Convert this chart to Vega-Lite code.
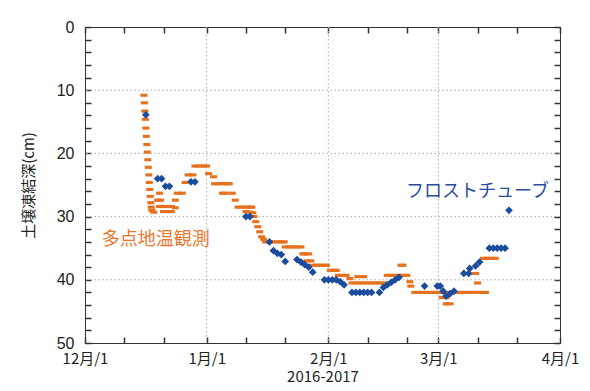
{
  "$schema": "https://vega.github.io/schema/vega-lite/v6.json",
  "width": 475,
  "height": 316,
  "autosize": "none",
  "padding": {"left": 85, "top": 27, "right": 30, "bottom": 48},
  "background": "white",
  "config": {"view": {"stroke": "#333", "strokeWidth": 1}, "font": "Noto Sans CJK JP"},
  "datasets": {
    "vgrid": [{"date": "2017-01-01T00:00:00Z"}, {"date": "2017-02-01T00:00:00Z"}, {"date": "2017-03-01T00:00:00Z"}],
    "hgrid": [{"depth": 10}, {"depth": 20}, {"depth": 30}, {"depth": 40}],
    "multi": [
      {"date": "2016-12-16T00:00:00Z", "depth": 10.8},
      {"date": "2016-12-16T03:00:00Z", "depth": 12},
      {"date": "2016-12-16T06:00:00Z", "depth": 13.3},
      {"date": "2016-12-16T09:00:00Z", "depth": 14.6},
      {"date": "2016-12-16T12:00:00Z", "depth": 16},
      {"date": "2016-12-16T15:00:00Z", "depth": 17.3},
      {"date": "2016-12-16T18:00:00Z", "depth": 18.6},
      {"date": "2016-12-16T21:00:00Z", "depth": 19.8},
      {"date": "2016-12-17T00:00:00Z", "depth": 21},
      {"date": "2016-12-17T03:00:00Z", "depth": 22.2},
      {"date": "2016-12-17T06:00:00Z", "depth": 23.4},
      {"date": "2016-12-17T09:00:00Z", "depth": 24.6},
      {"date": "2016-12-17T12:00:00Z", "depth": 25.7},
      {"date": "2016-12-17T15:00:00Z", "depth": 26.8},
      {"date": "2016-12-17T18:00:00Z", "depth": 27.8},
      {"date": "2016-12-17T21:00:00Z", "depth": 28.5},
      {"date": "2016-12-18T00:00:00Z", "depth": 29},
      {"date": "2016-12-18T12:00:00Z", "depth": 29.3},
      {"date": "2016-12-19T12:00:00Z", "depth": 27.4},
      {"date": "2016-12-20T00:00:00Z", "depth": 26.3},
      {"date": "2016-12-20T06:00:00Z", "depth": 27.4},
      {"date": "2016-12-20T00:00:00Z", "depth": 28.4},
      {"date": "2016-12-21T00:00:00Z", "depth": 28.4},
      {"date": "2016-12-22T00:00:00Z", "depth": 28.4},
      {"date": "2016-12-23T00:00:00Z", "depth": 28.4},
      {"date": "2016-12-21T00:00:00Z", "depth": 29.2},
      {"date": "2016-12-22T00:00:00Z", "depth": 29.2},
      {"date": "2016-12-23T00:00:00Z", "depth": 29.2},
      {"date": "2016-12-24T00:00:00Z", "depth": 28.6},
      {"date": "2016-12-24T00:00:00Z", "depth": 27.4},
      {"date": "2016-12-24T12:00:00Z", "depth": 26.3},
      {"date": "2016-12-25T18:00:00Z", "depth": 26.3},
      {"date": "2016-12-26T12:00:00Z", "depth": 24.6},
      {"date": "2016-12-27T06:00:00Z", "depth": 23.4},
      {"date": "2016-12-28T12:00:00Z", "depth": 23.4},
      {"date": "2016-12-29T00:00:00Z", "depth": 22},
      {"date": "2016-12-30T00:00:00Z", "depth": 22},
      {"date": "2016-12-31T00:00:00Z", "depth": 22},
      {"date": "2017-01-01T00:00:00Z", "depth": 22},
      {"date": "2017-01-01T12:00:00Z", "depth": 23.2},
      {"date": "2017-01-02T18:00:00Z", "depth": 23.7},
      {"date": "2017-01-03T00:00:00Z", "depth": 24.8},
      {"date": "2017-01-04T00:00:00Z", "depth": 24.8},
      {"date": "2017-01-05T00:00:00Z", "depth": 24.8},
      {"date": "2017-01-06T00:00:00Z", "depth": 24.8},
      {"date": "2017-01-06T18:00:00Z", "depth": 24.8},
      {"date": "2017-01-05T00:00:00Z", "depth": 26.3},
      {"date": "2017-01-05T18:00:00Z", "depth": 26.3},
      {"date": "2017-01-07T12:00:00Z", "depth": 26.3},
      {"date": "2017-01-08T06:00:00Z", "depth": 27.4},
      {"date": "2017-01-09T00:00:00Z", "depth": 28.5},
      {"date": "2017-01-10T00:00:00Z", "depth": 28.5},
      {"date": "2017-01-11T00:00:00Z", "depth": 28.5},
      {"date": "2017-01-12T00:00:00Z", "depth": 28.5},
      {"date": "2017-01-12T12:00:00Z", "depth": 28.5},
      {"date": "2017-01-11T00:00:00Z", "depth": 29.2},
      {"date": "2017-01-12T00:00:00Z", "depth": 29.3},
      {"date": "2017-01-12T18:00:00Z", "depth": 29.4},
      {"date": "2017-01-13T00:00:00Z", "depth": 30},
      {"date": "2017-01-13T12:00:00Z", "depth": 30.8},
      {"date": "2017-01-14T00:00:00Z", "depth": 31.6},
      {"date": "2017-01-14T12:00:00Z", "depth": 32.4},
      {"date": "2017-01-15T00:00:00Z", "depth": 33.2},
      {"date": "2017-01-15T12:00:00Z", "depth": 33.6},
      {"date": "2017-01-16T00:00:00Z", "depth": 34},
      {"date": "2017-01-17T00:00:00Z", "depth": 34},
      {"date": "2017-01-18T00:00:00Z", "depth": 34},
      {"date": "2017-01-19T00:00:00Z", "depth": 34},
      {"date": "2017-01-20T00:00:00Z", "depth": 34},
      {"date": "2017-01-20T18:00:00Z", "depth": 34},
      {"date": "2017-01-21T00:00:00Z", "depth": 34.8},
      {"date": "2017-01-22T00:00:00Z", "depth": 34.8},
      {"date": "2017-01-23T00:00:00Z", "depth": 34.8},
      {"date": "2017-01-24T00:00:00Z", "depth": 34.8},
      {"date": "2017-01-25T00:00:00Z", "depth": 34.8},
      {"date": "2017-01-25T12:00:00Z", "depth": 35.9},
      {"date": "2017-01-26T00:00:00Z", "depth": 35.9},
      {"date": "2017-01-27T00:00:00Z", "depth": 35.9},
      {"date": "2017-01-26T12:00:00Z", "depth": 37},
      {"date": "2017-01-27T12:00:00Z", "depth": 37},
      {"date": "2017-01-28T00:00:00Z", "depth": 37.7},
      {"date": "2017-01-29T00:00:00Z", "depth": 37.7},
      {"date": "2017-01-30T00:00:00Z", "depth": 37.7},
      {"date": "2017-01-31T00:00:00Z", "depth": 37.7},
      {"date": "2017-01-31T12:00:00Z", "depth": 37.7},
      {"date": "2017-02-01T12:00:00Z", "depth": 38.5},
      {"date": "2017-02-02T12:00:00Z", "depth": 38.5},
      {"date": "2017-02-03T00:00:00Z", "depth": 38.5},
      {"date": "2017-02-03T12:00:00Z", "depth": 39.3},
      {"date": "2017-02-04T12:00:00Z", "depth": 39.3},
      {"date": "2017-02-05T12:00:00Z", "depth": 39.3},
      {"date": "2017-02-06T12:00:00Z", "depth": 39.8},
      {"date": "2017-02-07T00:00:00Z", "depth": 40.5},
      {"date": "2017-02-08T00:00:00Z", "depth": 40.5},
      {"date": "2017-02-09T00:00:00Z", "depth": 40.5},
      {"date": "2017-02-10T00:00:00Z", "depth": 40.5},
      {"date": "2017-02-11T00:00:00Z", "depth": 40.5},
      {"date": "2017-02-12T00:00:00Z", "depth": 40.5},
      {"date": "2017-02-13T00:00:00Z", "depth": 40.5},
      {"date": "2017-02-14T00:00:00Z", "depth": 40.5},
      {"date": "2017-02-15T00:00:00Z", "depth": 40.5},
      {"date": "2017-02-08T12:00:00Z", "depth": 39.5},
      {"date": "2017-02-10T00:00:00Z", "depth": 39.5},
      {"date": "2017-02-16T00:00:00Z", "depth": 39.3},
      {"date": "2017-02-17T00:00:00Z", "depth": 39.3},
      {"date": "2017-02-18T00:00:00Z", "depth": 39.3},
      {"date": "2017-02-19T00:00:00Z", "depth": 39.3},
      {"date": "2017-02-20T00:00:00Z", "depth": 39.3},
      {"date": "2017-02-21T00:00:00Z", "depth": 39.3},
      {"date": "2017-02-19T12:00:00Z", "depth": 37.7},
      {"date": "2017-02-20T00:00:00Z", "depth": 37.7},
      {"date": "2017-02-21T18:00:00Z", "depth": 40.3},
      {"date": "2017-02-22T00:00:00Z", "depth": 41},
      {"date": "2017-02-23T00:00:00Z", "depth": 42},
      {"date": "2017-02-24T00:00:00Z", "depth": 42},
      {"date": "2017-02-25T00:00:00Z", "depth": 42},
      {"date": "2017-02-26T00:00:00Z", "depth": 42},
      {"date": "2017-02-27T00:00:00Z", "depth": 42},
      {"date": "2017-02-28T00:00:00Z", "depth": 42},
      {"date": "2017-03-01T00:00:00Z", "depth": 42},
      {"date": "2017-03-02T00:00:00Z", "depth": 42},
      {"date": "2017-03-03T00:00:00Z", "depth": 42},
      {"date": "2017-03-04T00:00:00Z", "depth": 42},
      {"date": "2017-03-05T00:00:00Z", "depth": 42},
      {"date": "2017-03-06T00:00:00Z", "depth": 42},
      {"date": "2017-03-07T00:00:00Z", "depth": 42},
      {"date": "2017-03-08T00:00:00Z", "depth": 42},
      {"date": "2017-03-09T00:00:00Z", "depth": 42},
      {"date": "2017-03-10T00:00:00Z", "depth": 42},
      {"date": "2017-03-11T00:00:00Z", "depth": 42},
      {"date": "2017-03-12T00:00:00Z", "depth": 42},
      {"date": "2017-03-13T00:00:00Z", "depth": 42},
      {"date": "2017-03-02T00:00:00Z", "depth": 42.8},
      {"date": "2017-03-03T00:00:00Z", "depth": 42.8},
      {"date": "2017-03-03T00:00:00Z", "depth": 43.8},
      {"date": "2017-03-04T00:00:00Z", "depth": 43.8},
      {"date": "2017-03-10T12:00:00Z", "depth": 39},
      {"date": "2017-03-11T00:00:00Z", "depth": 40.5},
      {"date": "2017-03-12T12:00:00Z", "depth": 36.6},
      {"date": "2017-03-13T12:00:00Z", "depth": 36.6},
      {"date": "2017-03-14T12:00:00Z", "depth": 36.6},
      {"date": "2017-03-15T12:00:00Z", "depth": 36.6}
    ],
    "tube": [
      {"date": "2016-12-16T12:00:00Z", "depth": 13.9},
      {"date": "2016-12-19T12:00:00Z", "depth": 24},
      {"date": "2016-12-20T12:00:00Z", "depth": 24},
      {"date": "2016-12-21T12:00:00Z", "depth": 25.2},
      {"date": "2016-12-22T12:00:00Z", "depth": 25.2},
      {"date": "2016-12-28T00:00:00Z", "depth": 24.5},
      {"date": "2016-12-29T00:00:00Z", "depth": 24.5},
      {"date": "2017-01-11T00:00:00Z", "depth": 30},
      {"date": "2017-01-12T00:00:00Z", "depth": 30},
      {"date": "2017-01-17T00:00:00Z", "depth": 34},
      {"date": "2017-01-18T00:00:00Z", "depth": 35.4},
      {"date": "2017-01-19T00:00:00Z", "depth": 35.8},
      {"date": "2017-01-20T00:00:00Z", "depth": 36},
      {"date": "2017-01-21T00:00:00Z", "depth": 37.1},
      {"date": "2017-01-24T00:00:00Z", "depth": 36.8},
      {"date": "2017-01-25T00:00:00Z", "depth": 37.2},
      {"date": "2017-01-26T00:00:00Z", "depth": 37.6},
      {"date": "2017-01-27T00:00:00Z", "depth": 38},
      {"date": "2017-01-28T00:00:00Z", "depth": 38.8},
      {"date": "2017-01-31T00:00:00Z", "depth": 40},
      {"date": "2017-02-01T00:00:00Z", "depth": 40},
      {"date": "2017-02-02T00:00:00Z", "depth": 40},
      {"date": "2017-02-03T00:00:00Z", "depth": 40},
      {"date": "2017-02-04T00:00:00Z", "depth": 40.3},
      {"date": "2017-02-05T00:00:00Z", "depth": 40.8},
      {"date": "2017-02-07T00:00:00Z", "depth": 42},
      {"date": "2017-02-08T00:00:00Z", "depth": 42},
      {"date": "2017-02-09T00:00:00Z", "depth": 42},
      {"date": "2017-02-10T00:00:00Z", "depth": 42},
      {"date": "2017-02-11T00:00:00Z", "depth": 42},
      {"date": "2017-02-12T00:00:00Z", "depth": 42},
      {"date": "2017-02-14T00:00:00Z", "depth": 42},
      {"date": "2017-02-15T00:00:00Z", "depth": 41.2},
      {"date": "2017-02-16T00:00:00Z", "depth": 40.8},
      {"date": "2017-02-17T00:00:00Z", "depth": 40.4},
      {"date": "2017-02-18T00:00:00Z", "depth": 40},
      {"date": "2017-02-19T00:00:00Z", "depth": 39.6},
      {"date": "2017-02-25T12:00:00Z", "depth": 41},
      {"date": "2017-02-28T18:00:00Z", "depth": 41},
      {"date": "2017-03-01T12:00:00Z", "depth": 41},
      {"date": "2017-03-02T06:00:00Z", "depth": 41.8},
      {"date": "2017-03-03T00:00:00Z", "depth": 42.6},
      {"date": "2017-03-04T00:00:00Z", "depth": 42.2},
      {"date": "2017-03-05T00:00:00Z", "depth": 41.8},
      {"date": "2017-03-07T12:00:00Z", "depth": 39},
      {"date": "2017-03-08T18:00:00Z", "depth": 39},
      {"date": "2017-03-09T00:00:00Z", "depth": 38.2},
      {"date": "2017-03-10T12:00:00Z", "depth": 37.8},
      {"date": "2017-03-11T12:00:00Z", "depth": 37.2},
      {"date": "2017-03-14T00:00:00Z", "depth": 35},
      {"date": "2017-03-15T00:00:00Z", "depth": 35},
      {"date": "2017-03-16T00:00:00Z", "depth": 35},
      {"date": "2017-03-17T00:00:00Z", "depth": 35},
      {"date": "2017-03-18T00:00:00Z", "depth": 35},
      {"date": "2017-03-19T00:00:00Z", "depth": 29}
    ],
    "labels": [
      {"date": "2016-12-19T00:00:00Z", "depth": 33.7, "label": "多点地温観測", "series": "multi"},
      {"date": "2017-03-11T00:00:00Z", "depth": 26.1, "label": "フロストチューブ", "series": "tube"}
    ]
  },
  "layer": [
    {
      "data": {"name": "vgrid"},
      "mark": {"type": "rule", "color": "#aaa", "strokeWidth": 1, "strokeDash": [1.5, 2.5]},
      "encoding": {
        "x": {"field": "date", "type": "temporal", "axis": null,
              "scale": {"type": "utc", "domain": [{"year": 2016, "month": 12, "date": 1, "utc": true}, {"year": 2017, "month": 4, "date": 1, "utc": true}]}}
      }
    },
    {
      "data": {"name": "hgrid"},
      "mark": {"type": "rule", "color": "#aaa", "strokeWidth": 1, "strokeDash": [1.5, 2.5]},
      "encoding": {
        "y": {"field": "depth", "type": "quantitative", "axis": null, "scale": {"domain": [0, 50], "reverse": true, "nice": false}}
      }
    },
    {
      "data": {"name": "multi"},
      "mark": {"type": "point", "shape": "M-1,-0.45L1,-0.45L1,0.45L-1,0.45Z", "filled": true, "size": 49, "color": "#E6711E", "opacity": 1, "strokeWidth": 0},
      "encoding": {
        "x": {
          "field": "date", "type": "temporal",
          "scale": {"type": "utc", "domain": [{"year": 2016, "month": 12, "date": 1, "utc": true}, {"year": 2017, "month": 4, "date": 1, "utc": true}]},
          "axis": {
            "orient": "bottom",
            "grid": false,
            "values": [
              {"year": 2016, "month": 12, "date": 1, "utc": true}, {"year": 2016, "month": 12, "date": 11, "utc": true}, {"year": 2016, "month": 12, "date": 21, "utc": true},
              {"year": 2017, "month": 1, "date": 1, "utc": true}, {"year": 2017, "month": 1, "date": 11, "utc": true}, {"year": 2017, "month": 1, "date": 21, "utc": true},
              {"year": 2017, "month": 2, "date": 1, "utc": true}, {"year": 2017, "month": 2, "date": 11, "utc": true}, {"year": 2017, "month": 2, "date": 21, "utc": true},
              {"year": 2017, "month": 3, "date": 1, "utc": true}, {"year": 2017, "month": 3, "date": 11, "utc": true}, {"year": 2017, "month": 3, "date": 21, "utc": true},
              {"year": 2017, "month": 4, "date": 1, "utc": true}
            ],
            "labelExpr": "utcdate(datum.value) == 1 ? (utcmonth(datum.value) + 1) + '月/1' : ''",
            "labelOverlap": false, "labelFlush": false, "labelBound": false,
            "labelColor": "#222", "labelFont": "Noto Sans CJK JP", "labelFontSize": 15, "labelPadding": 14,
            "tickSize": -6, "tickWidth": 1.5, "tickColor": "#333",
            "domainColor": "#333",
            "title": "2016-2017", "titleColor": "#222", "titleFont": "Noto Sans CJK JP", "titleFontSize": 15, "titleFontWeight": "normal", "titlePadding": 3
          }
        },
        "y": {
          "field": "depth", "type": "quantitative",
          "scale": {"domain": [0, 50], "reverse": true, "nice": false},
          "axis": {
            "orient": "left",
            "grid": false,
            "values": [0, 2, 4, 6, 8, 10, 12, 14, 16, 18, 20, 22, 24, 26, 28, 30, 32, 34, 36, 38, 40, 42, 44, 46, 48, 50],
            "labelExpr": "datum.value % 10 == 0 ? datum.label : ''",
            "labelOverlap": false, "labelFlush": false, "labelBound": false,
            "labelColor": "#222", "labelFont": "Liberation Sans", "labelFontSize": 16, "labelPadding": 17,
            "tickSize": -6, "tickWidth": 1.5, "tickColor": "#333",
            "domainColor": "#333",
            "title": "土壌凍結深(cm)", "titleColor": "#222", "titleFont": "Noto Sans CJK JP", "titleFontSize": 15, "titleFontWeight": "normal", "titlePadding": 20
          }
        }
      }
    },
    {
      "data": {"name": "tube"},
      "mark": {"type": "point", "shape": "diamond", "filled": true, "size": 60, "color": "#1B4C9E", "opacity": 1, "strokeWidth": 0},
      "encoding": {
        "x": {
          "field": "date", "type": "temporal",
          "scale": {"type": "utc", "domain": [{"year": 2016, "month": 12, "date": 1, "utc": true}, {"year": 2017, "month": 4, "date": 1, "utc": true}]},
          "axis": {
            "orient": "top",
            "grid": false,
            "values": [
              {"year": 2016, "month": 12, "date": 1, "utc": true}, {"year": 2016, "month": 12, "date": 11, "utc": true}, {"year": 2016, "month": 12, "date": 21, "utc": true},
              {"year": 2017, "month": 1, "date": 1, "utc": true}, {"year": 2017, "month": 1, "date": 11, "utc": true}, {"year": 2017, "month": 1, "date": 21, "utc": true},
              {"year": 2017, "month": 2, "date": 1, "utc": true}, {"year": 2017, "month": 2, "date": 11, "utc": true}, {"year": 2017, "month": 2, "date": 21, "utc": true},
              {"year": 2017, "month": 3, "date": 1, "utc": true}, {"year": 2017, "month": 3, "date": 11, "utc": true}, {"year": 2017, "month": 3, "date": 21, "utc": true},
              {"year": 2017, "month": 4, "date": 1, "utc": true}
            ],
            "labels": false, "title": null,
            "tickSize": -6, "tickWidth": 1.5, "tickColor": "#333", "domainColor": "#333"
          }
        },
        "y": {
          "field": "depth", "type": "quantitative",
          "scale": {"domain": [0, 50], "reverse": true, "nice": false},
          "axis": {
            "orient": "right",
            "grid": false,
            "values": [0, 2, 4, 6, 8, 10, 12, 14, 16, 18, 20, 22, 24, 26, 28, 30, 32, 34, 36, 38, 40, 42, 44, 46, 48, 50],
            "labels": false, "title": null,
            "tickSize": -6, "tickWidth": 1.5, "tickColor": "#333", "domainColor": "#333"
          }
        }
      }
    },
    {
      "data": {"name": "labels"},
      "mark": {"type": "text", "font": "Noto Sans CJK JP", "fontSize": 18, "fontWeight": "normal", "align": "center", "baseline": "middle"},
      "encoding": {
        "x": {"field": "date", "type": "temporal", "axis": null},
        "y": {"field": "depth", "type": "quantitative", "axis": null},
        "text": {"field": "label", "type": "nominal"},
        "color": {"field": "series", "type": "nominal", "scale": {"domain": ["multi", "tube"], "range": ["#E8772C", "#2A4C99"]}, "legend": null}
      }
    }
  ],
  "resolve": {"axis": {"x": "independent", "y": "independent"}}
}
